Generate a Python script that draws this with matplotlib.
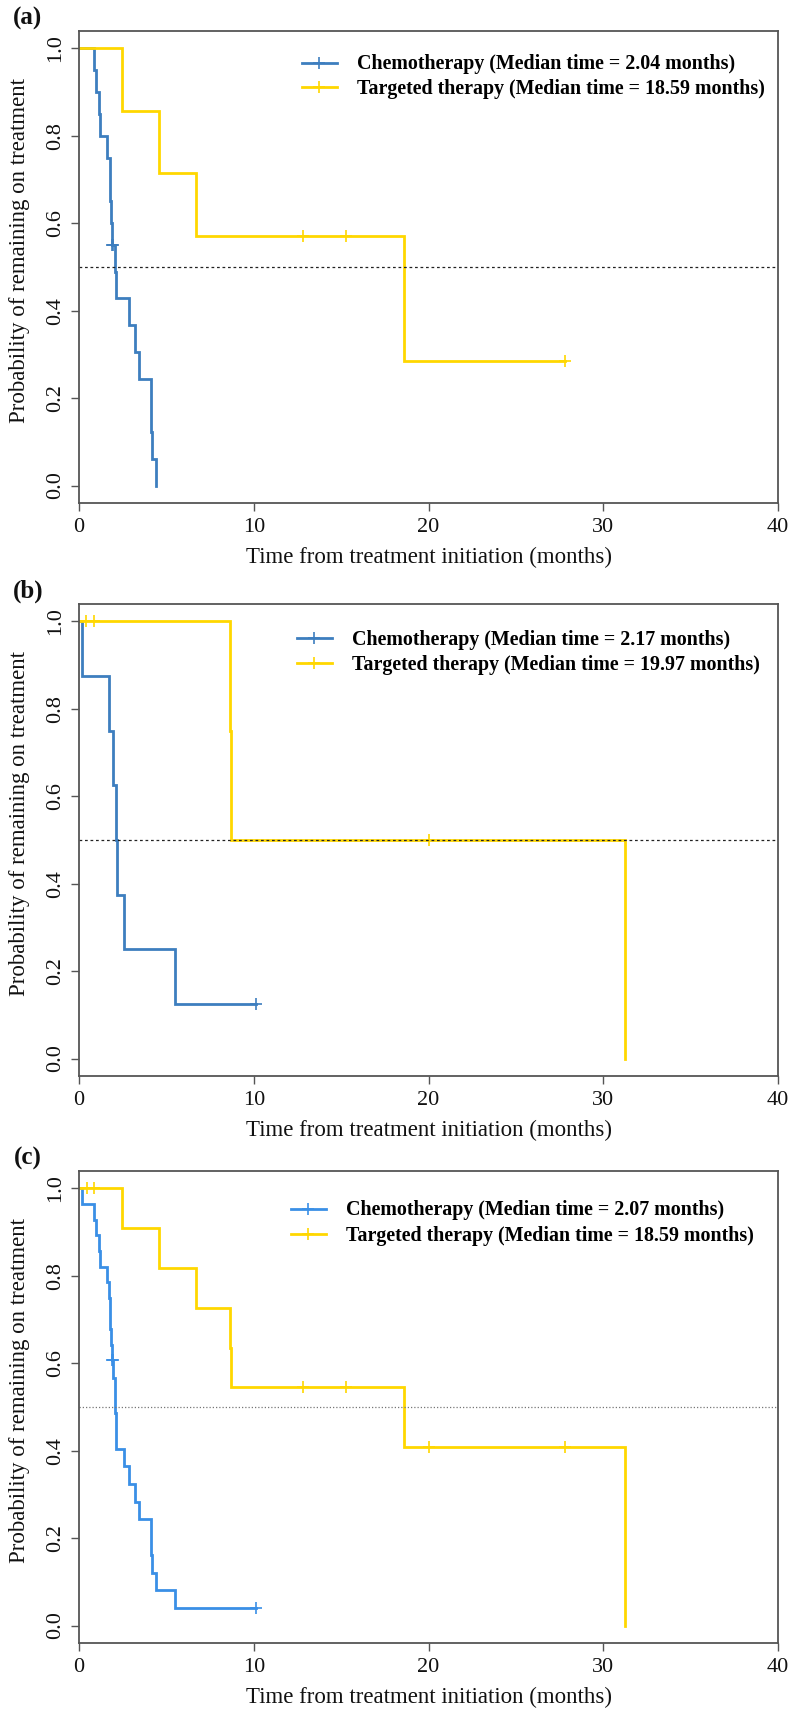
import matplotlib
matplotlib.use('Agg')
import matplotlib.pyplot as plt
from matplotlib.lines import Line2D

plt.rcParams['font.family'] = ['Liberation Serif', 'DejaVu Serif']

# ---------------- data (months, probability) ----------------
# Panel (a)
a_chemo_t = [0.88, 0.95, 1.16, 1.22, 1.58, 1.77, 1.80, 1.83, 1.87, 2.04, 2.10,
             2.86, 3.20, 3.43, 4.10, 4.12, 4.15, 4.39]
a_chemo_s = [0.95, 0.90, 0.85, 0.80, 0.75, 0.70, 0.65, 0.60, 0.55, 0.489, 0.428,
             0.367, 0.306, 0.244, 0.183, 0.122, 0.061, 0.0]
a_chemo_cens = [1.90, 1.95]
a_targ_t = [2.44, 4.56, 6.70, 18.59]
a_targ_s = [0.857, 0.714, 0.571, 0.286]
a_targ_cens = [12.8, 15.3, 27.8]

# Panel (b)
b_chemo_t = [0.19, 1.74, 1.97, 2.14, 2.20, 2.58, 5.50]
b_chemo_s = [0.875, 0.75, 0.625, 0.50, 0.375, 0.25, 0.125]
b_chemo_cens = [10.15]
b_targ_t = [8.62, 8.70, 31.24]
b_targ_s = [0.75, 0.50, 0.0]
b_targ_cens = [0.40, 0.86, 20.0]

# Panel (c)
c_chemo_t = [0.19, 0.88, 0.95, 1.16, 1.22, 1.58, 1.74, 1.77, 1.80, 1.83, 1.87,
             1.97, 2.04, 2.07, 2.10, 2.14, 2.58, 2.86, 3.20, 3.43, 4.10, 4.12,
             4.15, 4.39, 5.50]
c_chemo_s = [0.964, 0.929, 0.893, 0.857, 0.821, 0.786, 0.750, 0.714, 0.679, 0.643,
             0.607, 0.567, 0.526, 0.486, 0.445, 0.405, 0.364, 0.324, 0.283, 0.243,
             0.202, 0.162, 0.121, 0.081, 0.040]
c_chemo_cens = [1.90, 1.95, 10.15]
c_targ_t = [2.44, 4.56, 6.70, 8.62, 8.70, 18.59, 31.24]
c_targ_s = [0.909, 0.818, 0.727, 0.636, 0.545, 0.409, 0.0]
c_targ_cens = [0.44, 0.87, 12.8, 15.3, 20.0, 27.8]

panel_labels = ['(a)', '(b)', '(c)']
chemo_medians = ['2.04', '2.17', '2.07']
targ_medians = ['18.59', '19.97', '18.59']
x_ticks = [0, 10, 20, 30, 40]
y_ticks = [0.0, 0.2, 0.4, 0.6, 0.8, 1.0]
y_ticklabels = ['0.0', '0.2', '0.4', '0.6', '0.8', '1.0']

panels = [
    (a_chemo_t, a_chemo_s, a_chemo_cens, a_targ_t, a_targ_s, a_targ_cens),
    (b_chemo_t, b_chemo_s, b_chemo_cens, b_targ_t, b_targ_s, b_targ_cens),
    (c_chemo_t, c_chemo_s, c_chemo_cens, c_targ_t, c_targ_s, c_targ_cens),
]

# ---------------- style ----------------
GOLD = '#FFD700'
BLUE_AB = '#3D7EBF'
BLUE_C = '#3A8FE6'
chemo_colors = [BLUE_AB, BLUE_AB, BLUE_C]
ref_styles = [dict(color='#222222', ls=(0, (2.2, 2.2)), lw=0.9),
              dict(color='#222222', ls=(0, (2.2, 2.2)), lw=0.9),
              dict(color='#777777', ls=(0, (1.0, 1.6)), lw=0.9)]
legend_x = [302, 297, 291]
legend_row1 = [66, 69, 72]
legend_spacing = [0.22, 0.25, 0.25]

W, H = 803, 1711
fig = plt.figure(figsize=(W / 100, H / 100), dpi=100)
offsets = [0, 573, 1140]
AX_L, AX_R = 79, 778


def surv_at(t, times, surv):
    s = 1.0
    for ti, si in zip(times, surv):
        if ti <= t:
            s = si
    return s


def draw_km(ax, times, surv, cens, color):
    end = max([times[-1]] + list(cens))
    xs = [0] + list(times) + [end]
    ys = [1.0] + list(surv) + [surv[-1]]
    ax.step(xs, ys, where='post', color=color, lw=2.0, solid_joinstyle='miter')
    cy = [surv_at(c, times, surv) for c in cens]
    ax.plot(cens, cy, ls='none', marker='+', ms=9, mew=1.2, color=color)


for i, o in enumerate(offsets):
    top, bottom = o + 31, o + 503
    ax = fig.add_axes([AX_L / W, 1 - bottom / H, (AX_R - AX_L) / W, (bottom - top) / H])
    ct, cs, cc, tt, ts, tc = panels[i]
    draw_km(ax, ct, cs, cc, chemo_colors[i])
    draw_km(ax, tt, ts, tc, GOLD)
    ax.axhline(0.5, **ref_styles[i])

    ax.set_xlim(0, 40)
    ax.set_ylim(-0.04, 1.04)
    ax.set_xticks(x_ticks)
    ax.set_xticklabels([str(v) for v in x_ticks])
    ax.set_yticks(y_ticks)
    ax.set_yticklabels(y_ticklabels, rotation=90, va='center')
    ax.tick_params(axis='both', direction='out', length=6, width=1.0,
                   color='#555555', labelsize=16, labelcolor='#111111')
    ax.tick_params(axis='y', pad=4)
    ax.tick_params(axis='x', pad=5)
    for sp in ax.spines.values():
        sp.set_color('#555555')
        sp.set_linewidth(1.3)

    ax.set_xlabel('Time from treatment initiation (months)', fontsize=16.5,
                  color='#111111', labelpad=7)
    ax.set_ylabel('Probability of remaining on treatment', fontsize=16.5,
                  color='#111111', labelpad=1)
    ax.yaxis.set_label_coords(-0.07, 0.536)

    handles = [Line2D([], [], color=chemo_colors[i], lw=2.0, marker='+', ms=9, mew=1.2),
               Line2D([], [], color=GOLD, lw=2.0, marker='+', ms=9, mew=1.2)]
    labels = ['Chemotherapy (Median time = %s months)' % chemo_medians[i],
              'Targeted therapy (Median time = %s months)' % targ_medians[i]]
    ax.legend(handles, labels, loc='upper left',
              bbox_to_anchor=(legend_x[i] / W, 1 - (o + legend_row1[i] - 11.5) / H),
              bbox_transform=fig.transFigure, frameon=False,
              prop=dict(weight='bold', size=14.4), handlelength=1.75,
              handletextpad=1.0, borderpad=0, borderaxespad=0,
              labelspacing=legend_spacing[i])

    fig.text(28 / W, 1 - (o + 18) / H, panel_labels[i], fontsize=18,
             fontweight='bold', ha='center', va='center', color='#111111')

fig.savefig('out.png', dpi=100)
